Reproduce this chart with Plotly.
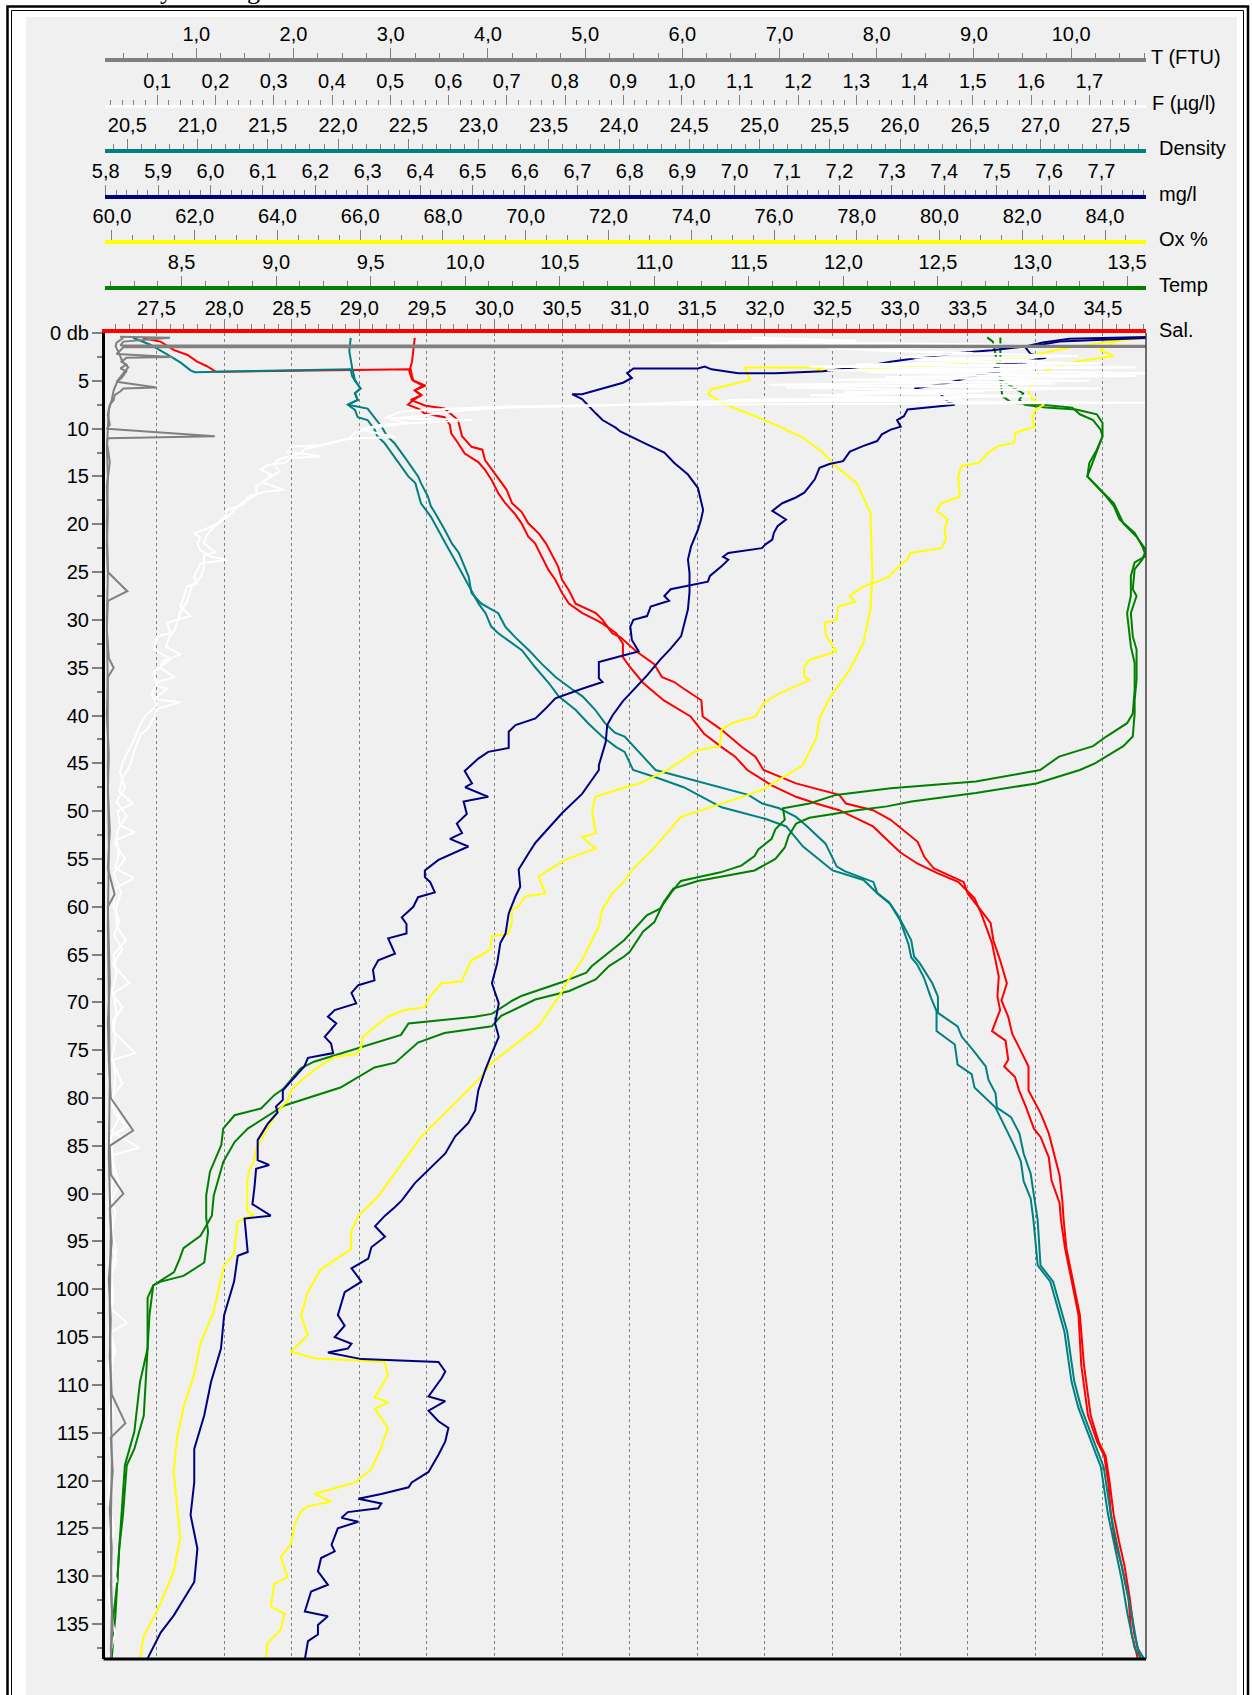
import plotly.graph_objects as go

# ---------------- data (depth in db, values in axis units) ----------------
# Salinity (red) - two casts
sal_a_depth = [0.56, 0.9, 1.8, 2.3, 3.0, 3.45, 4.05, 3.8, 4.5, 5.0, 5.5, 6.0, 6.5, 7.0, 7.5, 8.0, 8.4, 8.8, 9.6, 10.5,
               11.5, 12.6, 13.5, 14.3, 15.4, 16.8, 17.8, 18.9, 19.9, 21.3, 22.0, 23.4, 24.8, 25.8, 27.2, 28.3, 29.3, 30.0,
               30.4, 31.4, 32.5, 33.9, 34.9, 36.6, 38.4, 40.1, 41.9, 43.3, 44.3, 45.7, 47.3, 48.5, 49.2, 49.9, 51.6, 54.3,
               55.5, 56.5, 57.4, 59.1, 60.7, 63.8, 65.2, 67.3, 69.4, 70.8, 73.0, 74.0, 76.0, 76.7, 77.8, 79.2, 80.9, 83.2,
               84.1, 86.2, 88.6, 91.0, 92.8, 95.7, 99.2, 102.7, 107.9, 113.2, 116.0, 117.4, 120.2, 123.6, 126.4, 128.9,
               132.4, 135.9, 138.7]
sal_a = [27.40, 27.53, 27.63, 27.73, 27.80, 27.87, 27.94, 29.38, 29.39, 29.40, 29.47, 29.41, 29.46, 29.40, 29.36, 29.45,
         29.48, 29.63, 29.67, 29.68, 29.73, 29.78, 29.88, 29.93, 29.98, 30.03, 30.08, 30.15, 30.20, 30.25, 30.30, 30.35,
         30.40, 30.45, 30.50, 30.55, 30.65, 30.75, 30.80, 30.90, 30.95, 30.95, 31.00, 31.10, 31.25, 31.45, 31.55, 31.68,
         31.78, 31.87, 32.05, 32.23, 32.38, 32.55, 32.80, 33.00, 33.13, 33.28, 33.43, 33.55, 33.60, 33.68, 33.70, 33.73,
         33.72, 33.74, 33.68, 33.78, 33.80, 33.77, 33.85, 33.88, 33.93, 33.99, 34.04, 34.10, 34.12, 34.18, 34.19, 34.22,
         34.27, 34.32, 34.34, 34.39, 34.46, 34.51, 34.54, 34.56, 34.59, 34.64, 34.69, 34.71, 34.76]
sal_b_depth = [0.5, 1.5, 3.0, 4.0, 4.9, 5.5, 6.0, 6.5, 7.0, 7.6, 7.9, 9.1, 10.8, 11.9, 12.2, 13.3, 14.3, 15.7, 16.4, 17.8,
               18.7, 19.9, 21.0, 22.0, 23.4, 24.4, 25.8, 26.9, 28.3, 29.3, 30.0, 31.4, 31.8, 33.3, 34.6, 36.0, 36.5, 37.2,
               38.4, 40.1, 41.5, 43.3, 44.3, 45.7, 47.1, 48.3, 49.2, 49.9, 50.9, 53.2, 54.8, 56.0, 57.4, 58.6, 60.4, 61.7,
               63.5, 65.6, 68.0, 69.8, 71.5, 73.3, 74.7, 76.7, 79.2, 81.6, 83.7, 85.8, 88.1, 90.7, 92.8, 95.7, 99.2, 102.7,
               107.9, 113.2, 116.0, 117.4, 120.2, 123.6, 126.4, 128.9, 132.4, 135.9, 138.7]
sal_b = [29.41, 29.40, 29.39, 29.37, 29.39, 29.49, 29.41, 29.46, 29.38, 29.49, 29.63, 29.73, 29.76, 29.83, 29.91, 29.93,
         29.98, 30.05, 30.09, 30.13, 30.20, 30.25, 30.33, 30.38, 30.43, 30.47, 30.50, 30.55, 30.60, 30.75, 30.80, 30.87,
         30.93, 31.05, 31.18, 31.24, 31.33, 31.40, 31.53, 31.54, 31.68, 31.83, 31.93, 31.99, 32.23, 32.55, 32.60, 32.80,
         32.93, 33.13, 33.18, 33.25, 33.47, 33.50, 33.60, 33.67, 33.69, 33.74, 33.79, 33.75, 33.80, 33.83, 33.88, 33.95,
         33.95, 34.04, 34.10, 34.14, 34.18, 34.20, 34.21, 34.23, 34.28, 34.33, 34.36, 34.41, 34.47, 34.52, 34.55, 34.58,
         34.62, 34.66, 34.70, 34.73, 34.78]

# Density (teal)
den_a_depth = [0.5, 1.2, 2.2, 3.1, 3.9, 4.1, 3.8, 4.5, 5.0, 5.8, 6.3, 7.0, 7.5, 8.05, 8.8, 9.1, 10.1, 10.8, 11.5, 12.9,
               14.0, 15.0, 15.7, 17.8, 19.2, 20.6, 22.4, 23.7, 25.1, 26.5, 28.3, 29.3, 30.7, 31.4, 32.5, 33.2, 34.9, 36.6,
               38.0, 39.4, 40.8, 42.2, 43.3, 43.8, 45.7, 46.4, 47.5, 49.6, 50.8, 51.6, 53.7, 56.2, 57.2, 58.6, 59.7, 61.4,
               63.9, 65.3, 66.0, 67.4, 69.5, 70.9, 73.0, 74.4, 76.5, 77.5, 78.9, 80.0, 81.0, 83.1, 84.9, 86.6, 88.7, 90.5,
               92.8, 97.5, 99.2, 104.4, 109.6, 112.4, 115.9, 118.6, 123.5, 127.0, 130.5, 134.0, 137.5, 138.7]
den_a = [20.54, 20.66, 20.78, 20.88, 20.95, 20.98, 22.09, 22.10, 22.12, 22.16, 22.12, 22.14, 22.07, 22.12, 22.14, 22.21,
         22.26, 22.28, 22.33, 22.40, 22.45, 22.50, 22.55, 22.59, 22.66, 22.71, 22.78, 22.83, 22.88, 22.93, 23.00, 23.05,
         23.09, 23.14, 23.24, 23.31, 23.40, 23.50, 23.57, 23.69, 23.78, 23.88, 23.98, 24.04, 24.10, 24.25, 24.46, 24.73,
         25.04, 25.19, 25.31, 25.52, 25.74, 25.84, 25.93, 26.00, 26.06, 26.08, 26.12, 26.17, 26.22, 26.26, 26.26, 26.39,
         26.41, 26.51, 26.53, 26.61, 26.68, 26.75, 26.81, 26.86, 26.88, 26.93, 26.95, 26.98, 27.07, 27.17, 27.22, 27.27,
         27.36, 27.43, 27.48, 27.53, 27.58, 27.62, 27.67, 27.72]
den_b_depth = [0.5, 1.9, 3.6, 4.9, 5.8, 6.3, 7.0, 7.5, 7.9, 8.8, 9.8, 10.8, 11.5, 12.9, 14.0, 15.0, 15.7, 17.1, 18.1, 18.8,
               20.6, 22.0, 23.0, 25.5, 27.2, 28.3, 29.3, 30.7, 31.8, 33.2, 34.6, 36.0, 37.3, 38.0, 39.4, 40.8, 41.8, 42.2,
               45.7, 46.5, 47.6, 48.3, 49.2, 49.7, 50.6, 51.6, 53.4, 55.8, 56.3, 57.4, 58.6, 59.5, 61.0, 63.5, 65.2, 65.9,
               68.0, 69.4, 71.1, 72.5, 73.6, 75.0, 76.7, 78.1, 79.5, 81.0, 82.0, 83.7, 85.8, 87.9, 92.8, 97.5, 99.2, 104.4,
               109.6, 112.4, 115.9, 118.6, 123.5, 127.0, 130.5, 134.0, 137.5, 138.7]
den_b = [22.09, 22.08, 22.10, 22.12, 22.16, 22.12, 22.14, 22.07, 22.21, 22.26, 22.31, 22.35, 22.40, 22.47, 22.52, 22.57,
         22.59, 22.64, 22.66, 22.69, 22.76, 22.81, 22.86, 22.93, 22.95, 23.02, 23.14, 23.19, 23.26, 23.36, 23.45, 23.55,
         23.67, 23.74, 23.83, 23.90, 23.97, 24.04, 24.26, 24.46, 24.73, 24.92, 25.02, 25.14, 25.26, 25.34, 25.47, 25.55,
         25.61, 25.81, 25.84, 25.92, 25.99, 26.08, 26.10, 26.14, 26.23, 26.27, 26.27, 26.41, 26.44, 26.52, 26.61, 26.63,
         26.68, 26.69, 26.79, 26.85, 26.88, 26.93, 26.98, 27.00, 27.09, 27.19, 27.24, 27.29, 27.38, 27.45, 27.50, 27.55,
         27.60, 27.65, 27.69, 27.74]

# Temperature (green)
tmp_a_depth = [0.46, 0.9, 1.8, 2.8, 3.5, 4.9, 6.6, 7.3, 7.5, 7.8, 8.5, 9.1, 10.1, 10.8, 12.2, 13.6, 15.0, 16.0, 17.1, 18.1,
               19.5, 20.9, 22.3, 23.3, 24.0, 25.4, 27.5, 29.3, 31.0, 32.8, 34.5, 37.3, 39.8, 40.8, 42.2, 43.2, 44.3, 45.7,
               46.1, 46.9, 47.6, 48.3, 49.2, 49.7, 50.9, 51.9, 52.9, 54.0, 54.7, 55.7, 56.4, 57.3, 58.5, 60.2, 60.9, 62.0,
               63.5, 66.2, 66.9, 67.9, 69.3, 69.8, 71.2, 71.5, 72.2, 73.4, 74.5, 75.5, 76.2, 76.9, 79.0, 79.7, 81.1, 81.8,
               83.2, 84.9, 87.7, 90.2, 92.5, 94.0, 97.2, 98.6, 99.2, 99.6, 102.7, 106.2, 113.2, 116.7, 118.4, 123.6, 127.1,
               130.6, 134.1, 138.7]
tmp_a = [12.76, 12.79, 12.80, 12.81, 12.82, 12.83, 12.84, 12.89, 13.05, 13.21, 13.25, 13.32, 13.36, 13.37, 13.34, 13.30,
         13.29, 13.34, 13.39, 13.43, 13.46, 13.54, 13.58, 13.60, 13.54, 13.52, 13.52, 13.50, 13.51, 13.52, 13.54, 13.54,
         13.53, 13.50, 13.39, 13.32, 13.14, 13.04, 12.93, 12.70, 12.25, 11.96, 11.82, 11.68, 11.69, 11.64, 11.62, 11.55,
         11.53, 11.46, 11.35, 11.14, 11.09, 11.03, 10.96, 10.91, 10.84, 10.67, 10.64, 10.51, 10.30, 10.25, 10.14, 10.05,
         9.70, 9.66, 9.48, 9.31, 9.20, 9.13, 9.04, 8.99, 8.92, 8.78, 8.72, 8.71, 8.65, 8.63, 8.63, 8.64, 8.62, 8.51, 8.39,
         8.35, 8.33, 8.32, 8.30, 8.25, 8.21, 8.19, 8.17, 8.16, 8.14, 8.12]
tmp_b_depth = [0.46, 2.8, 3.5, 4.9, 6.3, 7.0, 7.5, 7.8, 8.0, 8.5, 9.4, 10.8, 12.9, 15.0, 16.4, 17.8, 19.9, 21.3, 22.7, 23.7,
               24.7, 26.8, 27.5, 29.3, 31.7, 33.1, 36.2, 38.4, 39.8, 42.2, 43.2, 44.3, 45.0, 45.7, 47.1, 48.1, 49.0, 49.5,
               49.9, 50.7, 51.3, 52.6, 53.8, 55.0, 56.2, 57.3, 58.1, 59.5, 61.6, 62.6, 64.7, 65.2, 66.2, 67.6, 68.8, 69.7,
               71.4, 72.5, 73.2, 74.2, 74.9, 76.3, 76.8, 78.9, 80.8, 83.2, 84.6, 86.7, 90.2, 92.3, 94.4, 95.7, 96.8, 98.2,
               99.6, 100.9, 106.2, 109.7, 114.9, 118.4, 127.1, 134.1, 138.7]
tmp_b = [12.83, 12.83, 12.82, 12.83, 12.95, 12.93, 12.96, 13.07, 13.23, 13.34, 13.37, 13.37, 13.33, 13.29, 13.36, 13.43,
         13.48, 13.55, 13.60, 13.58, 13.54, 13.53, 13.55, 13.52, 13.53, 13.55, 13.55, 13.54, 13.54, 13.53, 13.48, 13.39,
         13.33, 13.25, 13.02, 12.70, 12.36, 12.23, 12.07, 11.82, 11.75, 11.71, 11.69, 11.64, 11.53, 11.23, 11.10, 11.05,
         11.00, 10.94, 10.87, 10.84, 10.76, 10.69, 10.55, 10.37, 10.19, 10.14, 9.89, 9.75, 9.71, 9.63, 9.52, 9.34, 9.04,
         8.85, 8.78, 8.72, 8.67, 8.66, 8.60, 8.51, 8.49, 8.46, 8.35, 8.32, 8.32, 8.28, 8.25, 8.20, 8.17, 8.15, 8.13]

# Oxygen saturation (yellow)
ox_a_depth = [0.5, 0.8, 1.8, 2.4, 3.1, 4.2, 5.2, 6.2, 6.9, 7.5, 8.0, 8.7, 9.8, 10.4, 11.5, 11.8, 12.5, 13.6, 13.9, 15.0,
              17.1, 17.8, 18.6, 19.5, 20.6, 21.6, 22.5, 23.0, 23.7, 24.4, 25.5, 26.0, 26.5, 27.5, 28.1, 28.6, 30.0, 30.3,
              31.7, 33.3, 34.2, 34.9, 35.9, 36.3, 37.7, 38.7, 40.1, 40.8, 41.5, 43.2, 43.6, 45.7, 46.4, 47.1, 47.5, 48.5,
              49.9, 52.3, 52.7, 53.9, 55.1, 56.8, 58.6, 58.9, 60.0, 60.3, 61.7, 62.8, 63.1, 64.5, 65.6, 66.6, 67.8, 68.0,
              69.4, 70.5, 70.8, 71.5, 72.6, 73.6, 74.7, 75.4, 75.7, 76.8, 78.2, 79.2, 80.3, 81.0, 82.0, 83.4, 84.5, 85.5,
              86.6, 87.7, 88.7, 91.8, 92.2, 92.6, 93.0, 96.3, 97.6, 102.3, 105.6, 109.0, 112.3, 115.6, 119.1, 122.6, 126.0,
              129.5, 132.9, 136.4, 138.7]
ox_a = [85.1, 84.29, 83.88, 84.21, 83.14, 82.41, 82.20, 82.16, 82.24, 82.53, 82.33, 82.24, 82.29, 81.84, 81.80, 81.43,
        81.18, 80.94, 80.53, 80.45, 80.49, 80.04, 79.92, 80.20, 80.12, 80.16, 80.04, 79.30, 79.22, 79.02, 78.77, 78.49,
        78.16, 77.83, 77.96, 77.55, 77.51, 77.22, 77.26, 77.51, 76.85, 76.73, 76.73, 76.85, 76.12, 75.75, 75.55, 74.98,
        74.73, 74.69, 74.16, 73.42, 73.09, 72.77, 72.40, 71.69, 71.60, 71.69, 71.36, 71.69, 70.96, 70.31, 70.47, 69.99,
        69.82, 69.66, 69.66, 69.58, 69.18, 69.14, 68.69, 68.57, 68.45, 67.96, 67.68, 67.56, 67.07, 66.67, 66.34, 66.06,
        66.02, 65.90, 65.38, 64.97, 64.57, 64.33, 64.24, 64.08, 63.92, 63.72, 63.59, 63.47, 63.43, 63.31, 63.27, 63.27,
        63.43, 63.19, 63.03, 62.95, 62.70, 62.46, 62.14, 61.98, 61.73, 61.57, 61.49, 61.57, 61.65, 61.49, 61.17, 60.76,
        60.68]
ox_b_depth = [0.6, 1.5, 2.5, 3.3, 3.9, 3.9, 3.6, 3.6, 4.9, 5.9, 6.4, 7.6, 8.7, 9.6, 10.9, 12.5, 14.0, 15.7, 18.8, 25.4,
              28.9, 32.4, 35.2, 38.2, 40.3, 42.4, 45.2, 47.6, 48.3, 49.2, 50.6, 53.9, 56.0, 57.5, 58.6, 60.3, 62.1, 63.5,
              65.6, 67.6, 69.4, 72.5, 74.9, 76.3, 78.1, 79.8, 81.9, 84.0, 87.9, 90.3, 92.4, 94.0, 95.8, 97.9, 100.3, 102.7,
              104.8, 105.5, 106.5, 107.2, 107.6, 109.0, 111.3, 111.8, 112.5, 114.5, 116.5, 118.8, 120.2, 121.4, 122.2,
              122.7, 123.2, 124.6, 126.6, 128.0, 130.1, 130.8, 133.2, 133.9, 135.6, 137.0, 138.7]
ox_b = [84.6, 83.2, 82.0, 80.2, 77.83, 77.02, 77.18, 75.30, 75.42, 74.48, 74.40, 74.89, 75.55, 76.04, 76.69, 77.18, 77.51,
        78.00, 78.33, 78.38, 78.33, 78.16, 77.83, 77.34, 77.10, 77.02, 76.69, 75.79, 75.38, 74.73, 73.75, 73.09, 72.60,
        72.35, 72.09, 71.85, 71.76, 71.60, 71.36, 71.04, 70.80, 70.31, 69.58, 69.18, 68.85, 68.45, 67.96, 67.48, 66.83,
        66.43, 65.94, 65.78, 65.78, 65.05, 64.73, 64.57, 64.73, 64.57, 64.33, 64.89, 66.59, 66.67, 66.35, 66.67, 66.35,
        66.67, 66.51, 66.27, 65.87, 64.89, 65.30, 64.73, 64.57, 64.41, 64.33, 64.08, 64.24, 63.92, 63.84, 64.17, 64.08,
        63.76, 63.72]

# Dissolved oxygen mg/l (navy)
mg_a_depth = [0.4, 0.5, 0.6, 1.0, 1.4, 1.8, 2.1, 2.5, 3.0, 3.5, 3.8, 4.0, 4.2, 4.2, 3.8, 3.5, 3.7, 3.7, 4.2, 4.7, 5.2, 6.4,
              6.4, 6.9, 8.4, 9.1, 9.9, 10.3, 11.5, 12.5, 13.6, 14.8, 16.2, 18.5, 19.5, 20.6, 22.3, 23.7, 25.1, 27.1, 28.9,
              30.3, 31.7, 33.0, 34.1, 35.8, 38.5, 40.0, 41.0, 42.8, 45.2, 45.7, 48.2, 50.2, 53.3, 54.4, 56.1, 57.9, 58.9,
              60.7, 62.8, 63.8, 65.9, 68.0, 70.1, 72.2, 73.6, 75.3, 77.1, 79.2, 81.3, 82.6, 84.0, 85.8, 87.5, 88.9, 90.7,
              91.4, 92.3, 93.4, 94.5, 95.6, 96.8, 97.8, 99.2, 100.3, 102.7, 103.8, 105.0, 105.7, 106.2, 106.6, 107.3,
              107.6, 108.6, 109.3, 111.2, 111.7, 112.7, 113.8, 114.5, 115.9, 117.3, 119.1, 120.2, 120.7, 121.4, 121.9,
              122.4, 122.9, 123.3, 123.9, 124.3, 125.0, 126.7, 127.4, 128.1, 129.5, 130.9, 131.6, 133.7, 134.2, 135.1,
              136.1, 136.8, 138.7]
mg_a = [7.793, 7.704, 7.639, 7.588, 7.555, 7.491, 7.427, 7.362, 7.298, 7.246, 7.201, 7.169, 7.078, 7.007, 6.956, 6.943,
        6.930, 6.807, 6.795, 6.804, 6.787, 6.709, 6.690, 6.709, 6.735, 6.748, 6.773, 6.782, 6.827, 6.866, 6.885, 6.911,
        6.930, 6.940, 6.936, 6.930, 6.917, 6.911, 6.914, 6.914, 6.911, 6.904, 6.898, 6.878, 6.859, 6.833, 6.787, 6.767,
        6.757, 6.754, 6.741, 6.741, 6.709, 6.671, 6.620, 6.607, 6.588, 6.591, 6.582, 6.569, 6.563, 6.553, 6.547, 6.537,
        6.550, 6.543, 6.550, 6.537, 6.524, 6.511, 6.505, 6.492, 6.467, 6.448, 6.416, 6.390, 6.365, 6.352, 6.333, 6.314,
        6.333, 6.307, 6.301, 6.269, 6.288, 6.256, 6.243, 6.256, 6.237, 6.269, 6.262, 6.224, 6.288, 6.435, 6.448, 6.441,
        6.416, 6.448, 6.416, 6.435, 6.454, 6.448, 6.435, 6.416, 6.384, 6.378, 6.326, 6.282, 6.326, 6.320, 6.262, 6.250,
        6.282, 6.243, 6.231, 6.237, 6.211, 6.205, 6.224, 6.192, 6.180, 6.224, 6.205, 6.205, 6.186, 6.180]
mg_b_depth = [0.5, 0.9, 1.5, 2.2, 2.6, 2.9, 3.1, 3.3, 3.9, 4.1, 4.4, 4.9, 5.3, 5.8, 6.0, 6.1, 7.2, 7.5, 8.0, 8.7, 9.1,
              9.8, 10.1, 10.6, 11.3, 11.8, 12.4, 13.4, 13.7, 14.1, 15.3, 16.0, 16.7, 17.2, 17.8, 18.6, 19.5, 20.2, 20.9,
              21.6, 22.1, 22.5, 23.0, 23.4, 23.7, 24.4, 25.4, 26.0, 26.8, 27.5, 28.0, 28.6, 29.6, 30.0, 30.7, 32.1, 33.3,
              33.8, 34.4, 36.1, 36.5, 37.2, 38.2, 39.3, 40.3, 41.0, 41.7, 43.4, 43.8, 44.5, 45.8, 47.1, 47.5, 48.5, 49.0,
              50.3, 51.3, 52.3, 52.9, 53.7, 55.1, 56.2, 56.9, 57.4, 58.5, 59.0, 60.0, 61.1, 61.8, 62.8, 63.3, 64.9, 65.6,
              66.6, 67.7, 68.2, 69.0, 70.1, 70.8, 71.5, 72.2, 73.6, 74.3, 75.3, 75.8, 76.7, 79.2, 80.2, 80.9, 81.5, 82.7,
              84.4, 86.5, 87.0, 87.4, 89.3, 91.1, 92.3, 92.6, 96.1, 96.5, 99.2, 102.7, 106.2, 109.7, 113.2, 116.7, 120.2,
              123.6, 127.1, 130.6, 134.1, 135.9, 138.7]
mg_b = [7.793, 7.620, 7.555, 7.565, 7.594, 7.562, 7.555, 7.504, 7.491, 7.504, 7.465, 7.427, 7.401, 7.343, 7.362, 7.388,
        7.407, 7.420, 7.330, 7.323, 7.310, 7.317, 7.298, 7.281, 7.272, 7.246, 7.220, 7.207, 7.181, 7.162, 7.153, 7.143,
        7.133, 7.117, 7.091, 7.072, 7.098, 7.082, 7.075, 7.072, 7.059, 7.052, 6.988, 6.978, 6.988, 6.975, 6.953, 6.949,
        6.878, 6.866, 6.875, 6.840, 6.833, 6.807, 6.801, 6.804, 6.817, 6.782, 6.741, 6.741, 6.748, 6.709, 6.658, 6.639,
        6.620, 6.582, 6.569, 6.569, 6.530, 6.511, 6.485, 6.499, 6.486, 6.530, 6.483, 6.489, 6.470, 6.480, 6.457, 6.492,
        6.435, 6.409, 6.409, 6.419, 6.428, 6.396, 6.387, 6.365, 6.374, 6.374, 6.339, 6.352, 6.320, 6.310, 6.313, 6.282,
        6.269, 6.278, 6.237, 6.224, 6.240, 6.218, 6.230, 6.234, 6.186, 6.179, 6.138, 6.138, 6.125, 6.128, 6.109, 6.090,
        6.090, 6.112, 6.087, 6.084, 6.080, 6.115, 6.065, 6.071, 6.052, 6.045, 6.026, 6.020, 6.001, 5.988, 5.969, 5.969,
        5.962, 5.975, 5.969, 5.930, 5.905, 5.879]

# Fluorescence F (white)
flu_a_depth = [0.5, 0.8, 1.1, 1.4, 1.8, 2.1, 2.5, 2.9, 3.3, 3.6, 3.9, 4.2, 4.6, 5.0, 5.4, 5.8, 6.2, 6.6, 7.0, 7.3, 7.5,
               7.7, 7.9, 8.2, 8.9, 9.1, 9.6, 10.1, 10.5, 10.9, 11.0, 11.2, 11.7, 11.9, 12.4, 12.9, 13.1, 13.6, 13.8, 14.3,
               14.8, 15.7, 16.4, 16.6, 17.1, 17.9, 18.5, 19.2, 19.9, 20.6, 20.9, 21.4, 22.0, 22.7, 23.4, 23.7, 24.1, 24.8,
               25.5, 26.2, 26.5, 27.5, 28.6, 29.6, 30.0, 30.3, 31.4, 31.7, 33.1, 34.1, 35.5, 36.9, 37.2, 38.3, 38.6, 39.3,
               40.3, 41.4, 42.0, 43.8, 45.1, 45.8, 46.5, 48.0, 49.2, 50.0, 51.5, 52.2, 53.0, 54.5, 56.0, 57.0, 58.0, 60.0,
               61.5, 63.0, 64.5, 66.0, 68.0, 69.0, 71.0, 73.0, 75.3, 76.0, 78.0, 80.0, 82.0, 83.5, 85.2, 86.0, 88.0, 90.0,
               92.0, 94.0, 96.0, 98.0, 100.0, 102.0, 103.5, 104.5, 107.0, 110.0, 113.0, 116.0, 119.0, 122.0, 125.0, 128.0,
               130.5, 131.5, 134.0, 136.0, 138.7]
flu_a = [1.12, 1.30, 1.05, 1.45, 1.32, 1.50, 1.38, 1.62, 1.30, 1.78, 1.25, 1.85, 1.35, 1.70, 1.15, 1.72, 1.28, 1.60,
         1.08, 1.80, 0.90, 0.69, 0.61, 0.52, 0.49, 0.64, 0.485, 0.45, 0.48, 0.51, 0.44, 0.416, 0.381, 0.33, 0.324, 0.381,
         0.33, 0.318, 0.289, 0.278, 0.295, 0.284, 0.318, 0.284, 0.255, 0.249, 0.220, 0.215, 0.203, 0.180, 0.163, 0.174,
         0.169, 0.174, 0.192, 0.220, 0.174, 0.169, 0.163, 0.169, 0.151, 0.146, 0.140, 0.157, 0.134, 0.117, 0.123, 0.100,
         0.094, 0.123, 0.094, 0.100, 0.117, 0.094, 0.140, 0.100, 0.094, 0.083, 0.071, 0.060, 0.054, 0.048, 0.040, 0.035,
         0.058, 0.032, 0.036, 0.062, 0.030, 0.034, 0.028, 0.060, 0.030, 0.025, 0.035, 0.026, 0.040, 0.024, 0.052, 0.025,
         0.030, 0.024, 0.062, 0.025, 0.028, 0.024, 0.035, 0.022, 0.069, 0.022, 0.026, 0.020, 0.028, 0.022, 0.030, 0.020,
         0.024, 0.020, 0.048, 0.020, 0.025, 0.018, 0.024, 0.018, 0.022, 0.016, 0.026, 0.018, 0.030, 0.016, 0.020, 0.028,
         0.016]
flu_b_depth = [0.6, 0.9, 1.2, 1.6, 2.0, 2.4, 2.8, 3.2, 3.5, 3.8, 4.1, 4.5, 4.9, 5.3, 5.7, 6.1, 6.5, 6.9, 7.2, 7.6, 7.8,
               8.1, 8.6, 9.0, 9.4, 9.9, 10.4, 11.0, 11.5, 12.1, 12.6, 13.2, 13.7, 14.5, 15.2, 16.0, 16.9, 17.6, 18.3, 19.0,
               19.7, 20.4, 21.2, 22.0, 22.9, 23.3, 24.5, 25.5, 26.4, 27.3, 28.2, 29.1, 30.0, 31.0, 31.9, 32.8, 33.6, 34.3,
               35.0, 36.0, 36.5, 37.8, 38.9, 40.0, 41.0, 42.3, 43.5, 45.0, 46.0, 47.5, 49.0, 50.5, 52.0, 53.5, 55.0, 56.5,
               58.5, 60.0, 62.0, 63.5, 65.0, 67.0, 69.0, 70.5, 72.0, 74.0, 76.0, 78.5, 80.0, 81.5, 83.0, 84.0, 87.0, 89.0,
               91.0, 93.0, 95.0, 97.0, 99.0, 101.0, 104.0, 106.5, 108.0, 111.0, 114.0, 117.0, 120.0, 123.0, 126.0, 129.0,
               132.0, 135.0, 138.7]
flu_b = [1.20, 1.08, 1.55, 1.25, 1.42, 1.68, 1.40, 1.72, 1.22, 1.60, 1.32, 1.78, 1.26, 1.64, 1.18, 1.52, 1.22, 1.48,
         1.02, 0.86, 0.70, 0.62, 0.56, 0.50, 0.53, 0.47, 0.44, 0.43, 0.40, 0.355, 0.345, 0.31, 0.30, 0.31, 0.29, 0.27,
         0.27, 0.25, 0.235, 0.225, 0.21, 0.195, 0.185, 0.18, 0.20, 0.18, 0.18, 0.175, 0.16, 0.155, 0.15, 0.14, 0.135,
         0.13, 0.12, 0.115, 0.14, 0.11, 0.105, 0.13, 0.10, 0.09, 0.10, 0.08, 0.07, 0.062, 0.052, 0.040, 0.036, 0.045,
         0.030, 0.048, 0.032, 0.028, 0.045, 0.025, 0.038, 0.030, 0.030, 0.046, 0.025, 0.030, 0.022, 0.040, 0.024, 0.028,
         0.022, 0.040, 0.020, 0.026, 0.048, 0.020, 0.025, 0.035, 0.018, 0.024, 0.020, 0.030, 0.018, 0.024, 0.018, 0.028,
         0.016, 0.022, 0.016, 0.022, 0.017, 0.022, 0.016, 0.020, 0.016, 0.024, 0.018]

# Turbidity T (grey)
tur_a_depth = [0.4, 0.5, 0.9, 1.3, 1.35, 1.45, 1.5, 2.2, 2.5, 2.6, 3.0, 3.3, 3.7, 4.0, 4.7, 5.1, 5.7, 5.8, 6.1, 6.5, 7.0,
               7.5, 8.6, 9.6, 10.0, 10.8, 11.0, 11.4, 13.5, 16.0, 19.0, 22.0, 25.0, 27.0, 28.0, 31.0, 34.0, 35.0, 36.0,
               40.0, 44.0, 48.0, 52.0, 56.0, 58.7, 60.0, 64.0, 68.0, 72.0, 76.0, 80.0, 83.4, 85.0, 88.0, 90.0, 91.5, 95.0,
               99.0, 103.0, 107.0, 111.0, 114.0, 115.5, 119.0, 123.0, 127.0, 131.0, 135.0, 138.7]
tur_a = [0.215, 0.73, 0.25, 0.22, 20.0, 20.0, 0.25, 0.18, 0.76, 0.28, 0.23, 0.28, 0.22, 0.28, 0.23, 0.18, 0.59, 0.25,
         0.22, 0.16, 0.15, 0.11, 0.09, 0.11, 0.08, 1.19, 0.09, 0.08, 0.11, 0.08, 0.09, 0.08, 0.09, 0.29, 0.09, 0.08, 0.10,
         0.15, 0.09, 0.08, 0.10, 0.09, 0.11, 0.09, 0.16, 0.09, 0.10, 0.11, 0.09, 0.10, 0.12, 0.35, 0.11, 0.12, 0.25, 0.11,
         0.13, 0.10, 0.12, 0.11, 0.13, 0.27, 0.12, 0.14, 0.11, 0.13, 0.12, 0.14, 0.12]
tur_b_depth = [0.5, 1.0, 1.4, 2.0, 3.0, 3.6, 4.2, 5.0, 6.0, 7.0, 8.0, 10.0, 12.0, 15.0, 20.0, 25.0, 30.0, 38.0, 46.0, 54.0,
               62.0, 70.0, 78.0, 86.0, 94.0, 102.0, 110.0, 118.0, 126.0, 134.0, 138.7]
tur_b = [0.25, 0.18, 0.17, 0.20, 0.24, 0.30, 0.25, 0.19, 0.15, 0.13, 0.10, 0.09, 0.08, 0.09, 0.08, 0.09, 0.08, 0.09, 0.09,
         0.10, 0.09, 0.10, 0.11, 0.10, 0.12, 0.11, 0.12, 0.13, 0.12, 0.13, 0.12]

# axis tick labels / titles
depth_ticks = list(range(0, 140, 5))
depth_labels = ["0 db"] + [str(v) for v in depth_ticks[1:]]
axis_titles = ["T (FTU)", "F (µg/l)", "Density", "mg/l", "Ox %", "Temp", "Sal."]
# fragments of a page heading cut off by the top edge of the page
heading_fragments = ["y", "g"]

# ---------------- figure ----------------
W, H = 1252, 1695
ML, MR, MT, MB = 105, 106, 60, 36
PW, PH = W - ML - MR, H - MT - MB


def py(px_y):
    return (H - MB - px_y) / PH


def pxx(px_x):
    return (px_x - ML) / PW


FONT = "Liberation Sans, Arial, sans-serif"
GREY = "#808080"

fig = go.Figure()


def add(xa, depth, vals, color, width=2.0):
    fig.add_trace(go.Scatter(x=vals, y=depth, xaxis=xa, yaxis="y", mode="lines",
                             line=dict(color=color, width=width), showlegend=False, hoverinfo="skip"))


# draw order: red, teal, green, yellow, navy, white, grey
add("x", sal_a_depth, sal_a, "#ff0000")
add("x", sal_b_depth, sal_b, "#ff0000")
add("x2", den_a_depth, den_a, "#008080")
add("x2", den_b_depth, den_b, "#008080")
add("x3", tmp_a_depth, tmp_a, "#008000")
add("x3", tmp_b_depth, tmp_b, "#008000")
add("x4", ox_a_depth, ox_a, "#ffff00")
add("x4", ox_b_depth, ox_b, "#ffff00")
add("x5", mg_a_depth, mg_a, "#000080")
add("x5", mg_b_depth, mg_b, "#000080")
add("x6", flu_a_depth, flu_a, "#ffffff")
add("x6", flu_b_depth, flu_b, "#ffffff")
add("x7", tur_a_depth, tur_a, GREY)
add("x7", tur_b_depth, tur_b, GREY)

dom_top = py(333)


def top_axis(rng, dtick, mdtick, linecolor, pos=None, lw=4, standoff=-1):
    d = dict(range=rng, side="top", tickmode="linear", tick0=0, dtick=dtick, tickformat=".1f",
             ticks="outside", ticklen=10, tickwidth=1, tickcolor=GREY,
             minor=dict(tick0=0, dtick=mdtick, ticks="outside", ticklen=5, tickwidth=1, tickcolor=GREY, showgrid=False),
             showline=True, linecolor=linecolor, linewidth=lw, showgrid=False, zeroline=False,
             tickfont=dict(family=FONT, size=20, color="black"), ticklabelstandoff=standoff, fixedrange=True)
    if pos is not None:
        d.update(overlaying="x", anchor="free", position=pos)
    return d


xa_sal = top_axis([27.119, 34.819], 0.5, 0.1, "#ff0000", standoff=-4)
xa_sal.update(anchor="y", showgrid=True, gridcolor=GREY, griddash="dot", gridwidth=1.3)

fig.update_layout(
    width=W, height=H,
    margin=dict(l=ML, r=MR, t=MT, b=MB, pad=0),
    paper_bgcolor="white", plot_bgcolor="#f0f0f0",
    separators=", ",
    showlegend=False,
    xaxis=xa_sal,
    xaxis2=top_axis([20.341, 27.751], 0.5, 0.1, "#008080", py(151)),
    xaxis3=top_axis([8.0949, 13.600], 0.5, 0.125, "#008000", py(288)),
    xaxis4=top_axis([59.831, 84.991], 2, 0.5, "#ffff00", py(242)),
    xaxis5=top_axis([5.7987, 7.785], 0.1, 0.02, "#000080", py(197)),
    xaxis6=top_axis([0.0103, 1.7973], 0.1, 0.02, "#ffffff", py(106), lw=3),
    xaxis7=top_axis([0.0607, 10.770], 1, 0.25, GREY, 1.0),
    yaxis=dict(domain=[0, dom_top], range=[138.66, 0], tickmode="array", tickvals=depth_ticks, ticktext=depth_labels,
               ticks="outside", ticklen=10, tickwidth=1.5, tickcolor=GREY,
               minor=dict(tickvals=[v + 2.5 for v in depth_ticks], ticks="outside", ticklen=5, tickwidth=1.5,
                          tickcolor=GREY, showgrid=False),
               showline=True, linecolor="black", linewidth=3, showgrid=False, zeroline=False,
               tickfont=dict(family=FONT, size=20, color="black"), ticklabelstandoff=-1, fixedrange=True),
)

shapes = [
    # grey panel
    dict(type="rect", xref="paper", yref="paper", x0=pxx(26), x1=pxx(1237), y0=py(1700), y1=py(17),
         fillcolor="#f0f0f0", line=dict(width=0), layer="below"),
    # double frame
    dict(type="rect", xref="paper", yref="paper", x0=pxx(7.5), x1=pxx(1248), y0=py(1720), y1=py(6.5),
         line=dict(color="black", width=2.5), fillcolor="rgba(0,0,0,0)", layer="above"),
    dict(type="rect", xref="paper", yref="paper", x0=pxx(11.5), x1=pxx(1243.5), y0=py(1720), y1=py(10.5),
         line=dict(color="black", width=1), fillcolor="rgba(0,0,0,0)", layer="above"),
    # bottom and right borders of the plot area
    dict(type="line", xref="paper", yref="paper", x0=pxx(103.5), x1=1, y0=0, y1=0,
         line=dict(color="black", width=3), layer="above"),
    dict(type="line", xref="paper", yref="paper", x0=1, x1=1, y0=0, y1=dom_top,
         line=dict(color="#404040", width=1.5), layer="above"),
]
fig.update_layout(shapes=shapes)

title_x = [1149, 1150, 1157, 1157, 1157, 1157, 1157]
title_y = [57, 103, 148, 194, 239, 285, 330]
for t, xx, yy in zip(axis_titles, title_x, title_y):
    fig.add_annotation(text=t, xref="paper", yref="paper", x=pxx(xx), y=py(yy), xanchor="left", yanchor="middle",
                       showarrow=False, font=dict(family=FONT, size=20, color="black"))

# heading fragments (only their descenders show below the top of the page)
for t, xx in zip(heading_fragments, [166, 253]):
    fig.add_annotation(text=t, xref="paper", yref="paper", x=pxx(xx), y=py(6), xanchor="center", yanchor="bottom",
                       showarrow=False, borderpad=0, font=dict(family="Liberation Serif, Times New Roman, serif",
                                                               size=26, color="black"))

fig.write_html("out.html", include_plotlyjs=True, full_html=True, config={"displayModeBar": False},
               post_script="document.body.style.margin='0';document.body.style.overflow='hidden';")
